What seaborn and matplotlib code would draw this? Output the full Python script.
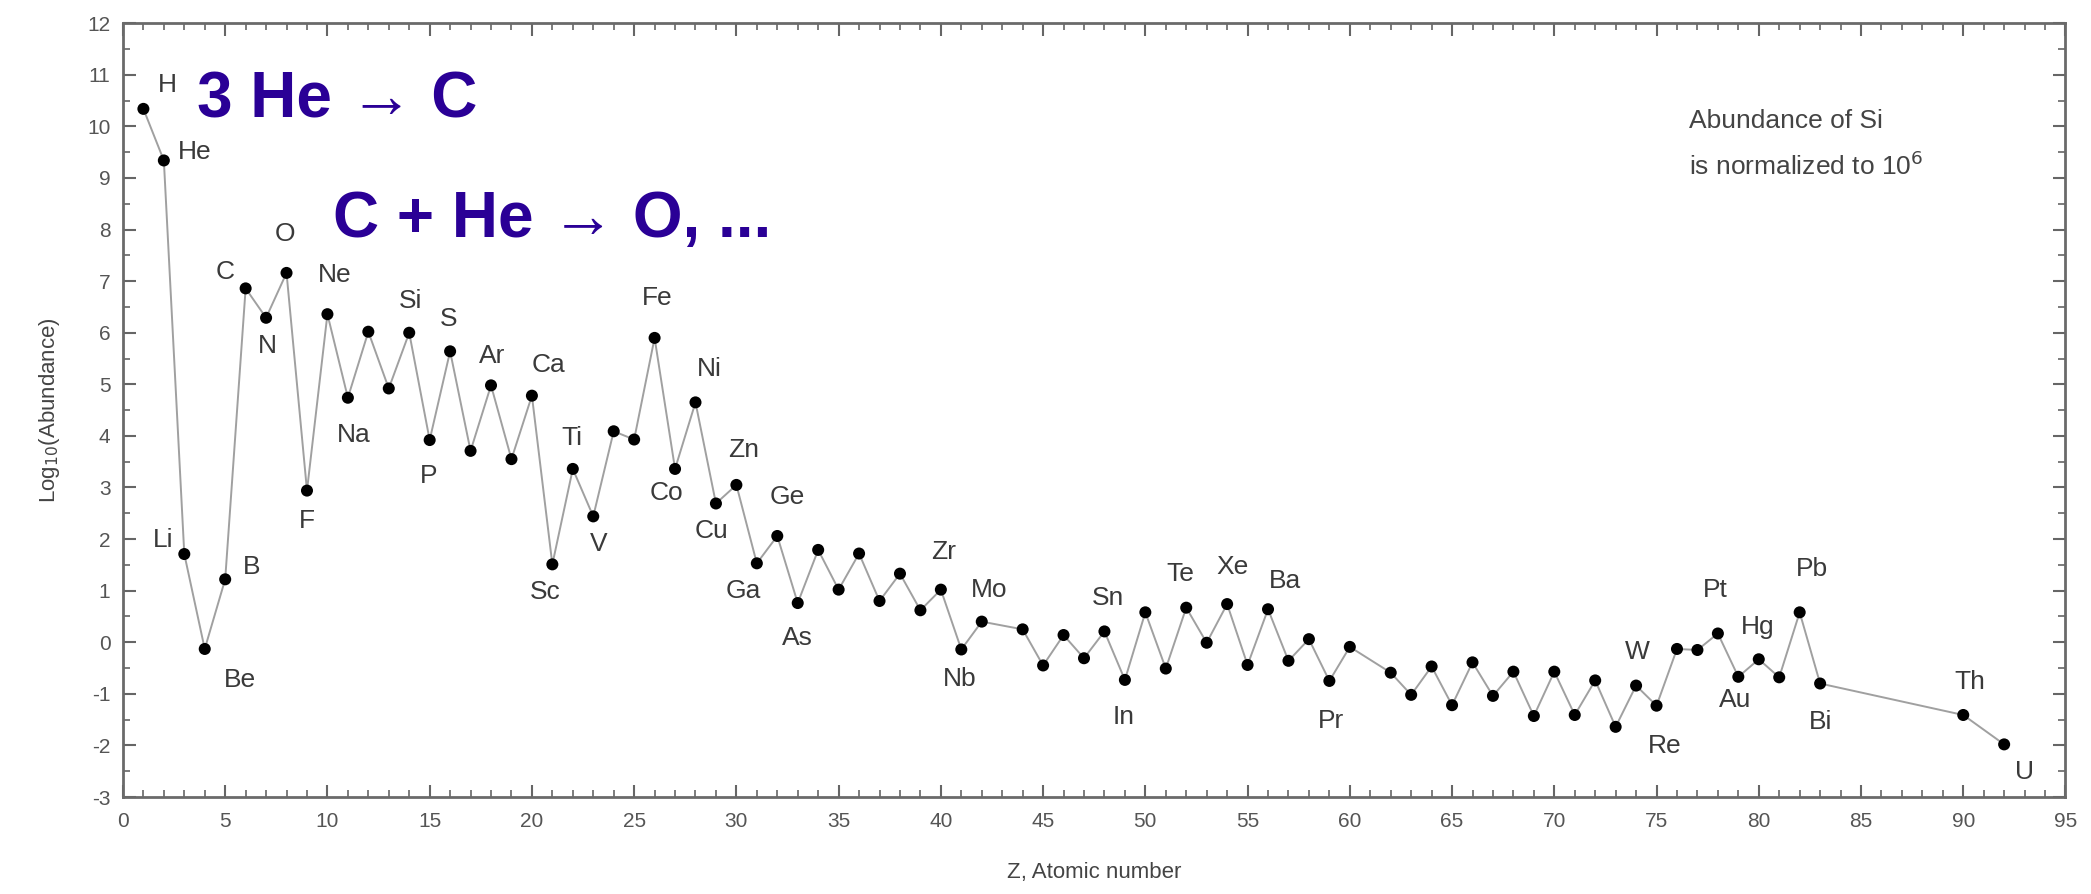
# Solar system abundances vs atomic number (Si normalised to 1e6)
import matplotlib
matplotlib.use("Agg")
import matplotlib.pyplot as plt
from matplotlib.ticker import MultipleLocator
import pandas as pd
import seaborn as sns

# ===============================
# Data
# ===============================
z = [1, 2, 3, 4, 5, 6, 7, 8, 9, 10,
     11, 12, 13, 14, 15, 16, 17, 18, 19, 20,
     21, 22, 23, 24, 25, 26, 27, 28, 29, 30,
     31, 32, 33, 34, 35, 36, 37, 38, 39, 40,
     41, 42, 44, 45, 46, 47, 48, 49, 50,
     51, 52, 53, 54, 55, 56, 57, 58, 59, 60,
     62, 63, 64, 65, 66, 67, 68, 69, 70,
     71, 72, 73, 74, 75, 76, 77, 78, 79, 80,
     81, 82, 83, 90, 92]
symbols = ["H", "He", "Li", "Be", "B", "C", "N", "O", "F", "Ne",
           "Na", "Mg", "Al", "Si", "P", "S", "Cl", "Ar", "K", "Ca",
           "Sc", "Ti", "V", "Cr", "Mn", "Fe", "Co", "Ni", "Cu", "Zn",
           "Ga", "Ge", "As", "Se", "Br", "Kr", "Rb", "Sr", "Y", "Zr",
           "Nb", "Mo", "Ru", "Rh", "Pd", "Ag", "Cd", "In", "Sn",
           "Sb", "Te", "I", "Xe", "Cs", "Ba", "La", "Ce", "Pr", "Nd",
           "Sm", "Eu", "Gd", "Tb", "Dy", "Ho", "Er", "Tm", "Yb",
           "Lu", "Hf", "Ta", "W", "Re", "Os", "Ir", "Pt", "Au", "Hg",
           "Tl", "Pb", "Bi", "Th", "U"]
log_abund = [10.34, 9.34, 1.71, -0.13, 1.22, 6.86, 6.29, 7.16, 2.94, 6.36,
             4.74, 6.02, 4.92, 6.00, 3.92, 5.64, 3.71, 4.98, 3.55, 4.78,
             1.51, 3.36, 2.44, 4.09, 3.93, 5.90, 3.36, 4.65, 2.69, 3.05,
             1.53, 2.06, 0.76, 1.79, 1.02, 1.72, 0.80, 1.33, 0.62, 1.02,
             -0.14, 0.40, 0.25, -0.45, 0.14, -0.31, 0.21, -0.73, 0.58,
             -0.51, 0.67, -0.01, 0.74, -0.44, 0.64, -0.36, 0.06, -0.75, -0.09,
             -0.59, -1.02, -0.47, -1.22, -0.39, -1.04, -0.57, -1.43, -0.57,
             -1.41, -0.74, -1.64, -0.84, -1.23, -0.13, -0.15, 0.17, -0.67, -0.33,
             -0.68, 0.58, -0.80, -1.41, -1.98]

# which points carry a name, and where the name sits (offset in points)
label_offsets = {
    "H": (17, 17), "He": (22, 6), "Li": (-15, 10), "Be": (25, -22),
    "B": (19, 9), "C": (-15, 12), "N": (1, -20), "O": (-1, 28),
    "F": (0, -22), "Ne": (5, 28), "Na": (4, -27), "Si": (1, 23),
    "P": (-1, -26), "S": (-1, 23), "Ar": (1, 21), "Ca": (12, 22),
    "Sc": (-5, -20), "Ti": (-1, 22), "V": (4, -20), "Fe": (2, 29),
    "Co": (-6, -17), "Ni": (10, 24), "Cu": (-3, -20), "Zn": (5, 25),
    "Ga": (-10, -20), "Ge": (7, 28), "As": (0, -25), "Zr": (2, 27),
    "Nb": (-1, -21), "Mo": (5, 23), "Sn": (-27, 10), "In": (-1, -27),
    "Te": (-4, 24), "Xe": (4, 27), "Ba": (12, 20), "Pr": (1, -29),
    "W": (1, 24), "Re": (6, -29), "Pt": (-2, 31), "Au": (-2, -17),
    "Hg": (-1, 23), "Pb": (9, 31), "Bi": (0, -28), "Th": (5, 24),
    "U": (15, -20),
}

df = pd.DataFrame({"Z": z, "symbol": symbols, "logA": log_abund})

# ===============================
# Plot
# ===============================
sns.set_style("ticks")
plt.rcParams["font.family"] = ["Liberation Sans", "DejaVu Sans"]
plt.rcParams["axes.unicode_minus"] = False

fig = plt.figure(figsize=(20.91, 8.94), dpi=100)
ax = fig.add_axes([0.0588, 0.1085, 0.929, 0.8655])

sns.lineplot(data=df, x="Z", y="logA", sort=False, ax=ax,
             color="#a0a0a0", linewidth=1.4, zorder=1)
sns.scatterplot(data=df, x="Z", y="logA", ax=ax, color="black",
                s=75, edgecolor="none", zorder=2)

for _, row in df.iterrows():
    if row["symbol"] in label_offsets:
        dx, dy = label_offsets[row["symbol"]]
        ax.annotate(row["symbol"], (row["Z"], row["logA"]),
                    xytext=(dx, dy), textcoords="offset points",
                    ha="center", va="center", fontsize=19, color="#3a3a3a")

ax.set_xlim(0, 95)
ax.set_ylim(-3, 12)
ax.xaxis.set_major_locator(MultipleLocator(5))
ax.xaxis.set_minor_locator(MultipleLocator(1))
ax.yaxis.set_major_locator(MultipleLocator(1))
ax.yaxis.set_minor_locator(MultipleLocator(0.5))
ax.tick_params(which="both", direction="in", top=True, right=True,
               color="#666666", labelcolor="#555555", labelsize=15)
ax.tick_params(axis="x", which="major", pad=11)
ax.tick_params(axis="y", which="major", pad=9)
ax.tick_params(which="major", length=9, width=1.5)
ax.tick_params(which="minor", length=5, width=1.2)
for sp in ax.spines.values():
    sp.set_color("#6a6a6a")
    sp.set_linewidth(2)

ax.set_xlabel("Z, Atomic number", fontsize=16, color="#444444", labelpad=22)
ax.set_ylabel(r"Log$_{10}$(Abundance)", fontsize=16, color="#444444", labelpad=18)

ax.text(0.806, 0.843, "Abundance of Si\nis normalized to 10$^6$",
        transform=ax.transAxes, fontsize=19, color="#444444",
        va="center", linespacing=1.8)

# reaction notes in blue
fig.text(197 / 2091, 1 - 117 / 894, "3 He \u2192 C", fontsize=46,
         fontweight="bold", color="#2a0096")
fig.text(333 / 2091, 1 - 237 / 894, "C + He \u2192 O, ...", fontsize=46,
         fontweight="bold", color="#2a0096")

fig.savefig("out.png", dpi=100)
